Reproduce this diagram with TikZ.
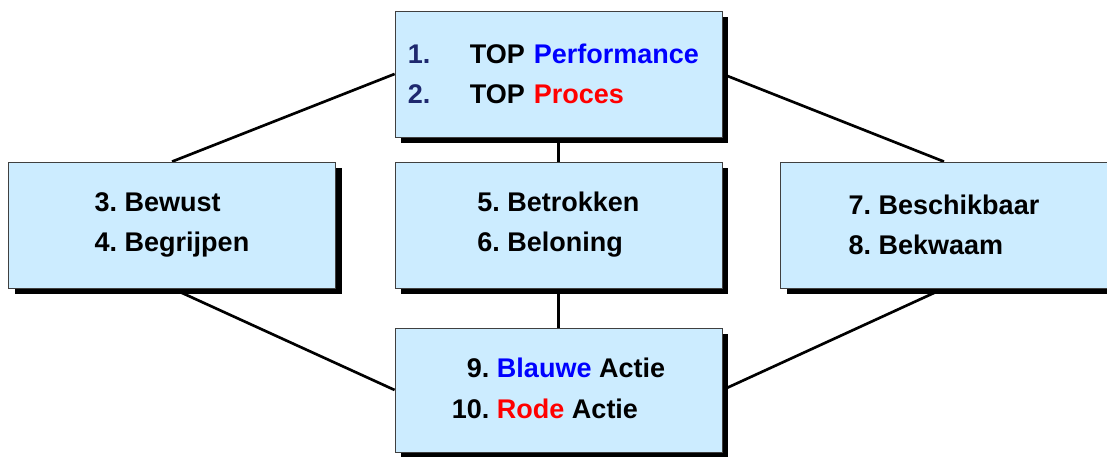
\documentclass[tikz,border=0pt]{standalone}
\usepackage{fontspec}
\setmainfont{Liberation Sans}
\usetikzlibrary{shadows}
\frenchspacing

\definecolor{boxblue}{RGB}{204,236,255}
\definecolor{navy}{RGB}{30,40,110}
\pgfdeclarelayer{background}
\pgfsetlayers{background,main}

\tikzset{
  card/.style={draw=black!75, line width=0.5pt, fill=boxblue,
    minimum width=8.175cm, minimum height=3.15cm, inner sep=0pt,
    font=\fontsize{19.2}{28.5}\selectfont\bfseries,
    drop shadow={shadow xshift=0.16cm, shadow yshift=-0.16cm, fill=black, opacity=1}},
  link/.style={line width=1.9pt, black}
}

\begin{document}
\begin{tikzpicture}[x=0.025cm, y=0.025cm]
  \useasboundingbox (0,0) rectangle (1107,457);

  % Top
  \node[card, text width=7.525cm, align=left] (top) at (558.5,383)
    {\makebox[44pt][l]{\textcolor{navy}{1.}}TOP \textcolor{blue}{Performance}\\
     \makebox[44pt][l]{\textcolor{navy}{2.}}TOP \textcolor{red}{Proces}};

  % Middle row
  \node[card, align=left] (bewust) at (172,232) {3. Bewust\\4. Begrijpen};
  \node[card, align=left] (betrokken) at (558.5,232) {5. Betrokken\\6. Beloning};
  \node[card, align=left] (beschikbaar) at (944,232) {7. Beschikbaar\\8. Bekwaam};

  % Bottom
  \node[card, minimum height=3.1cm] (actie) at (558.5,67)
    {\begin{tabular}{@{}r@{ }l@{}}
      9. & \textcolor{blue}{Blauwe} Actie\\
      10. & \textcolor{red}{Rode} Actie
     \end{tabular}};

  % Links
  \begin{pgfonlayer}{background}
    \draw[link] (top.west) -- (bewust.north);
    \draw[link] (top.east) -- (beschikbaar.north);
    \draw[link] (top.south) -- (betrokken.north);
    \draw[link] (betrokken.south) -- (actie.north);
    \draw[link] (bewust.south) -- (actie.west);
    \draw[link] (beschikbaar.south) -- (actie.east);
  \end{pgfonlayer}
\end{tikzpicture}
\end{document}
